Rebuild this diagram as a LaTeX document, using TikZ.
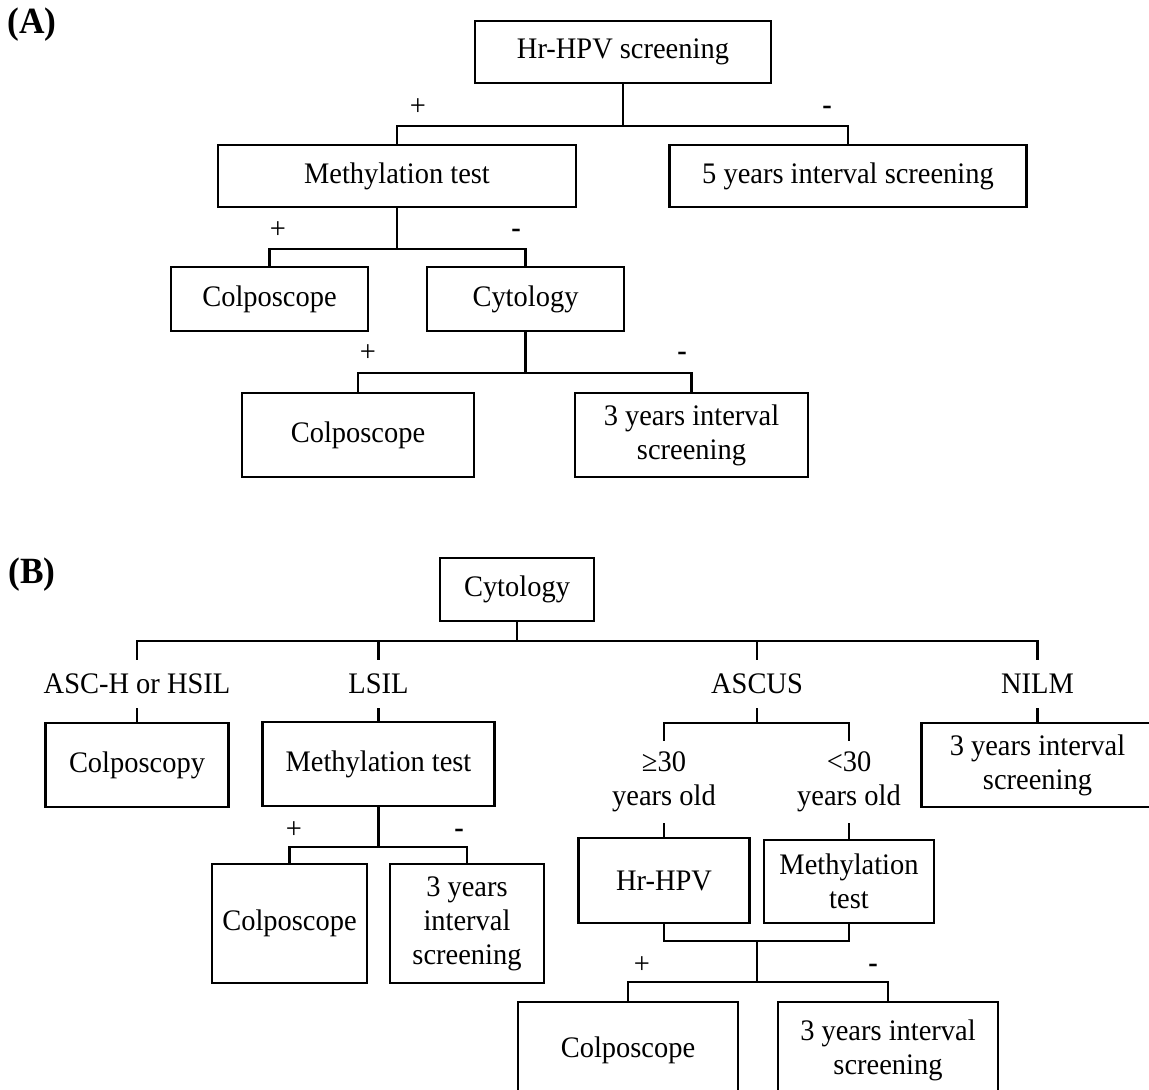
\documentclass[tikz,border=0pt]{standalone}
\usepackage{fontspec}
\setmainfont[FakeStretch=0.955]{Liberation Serif}
\newcommand\mainsz{\fontsize{29.8}{34}\selectfont}
\newcommand\panelsz{\fontsize{37}{40}\selectfont\bfseries}
\begin{document}
\begin{tikzpicture}[x=1pt,y=-1pt,line width=2.8pt,
  box/.style={draw, line width=2.8pt, inner sep=0pt, align=center, font=\mainsz},
  sz/.style 2 args={minimum width=#1pt, minimum height=#2pt},
  lbl/.style={inner sep=0pt, align=center, font=\mainsz},
  sign/.style={inner sep=0pt, font=\mainsz},
  panel/.style={inner sep=0pt, font=\panelsz}]
\useasboundingbox (0,0) rectangle (1149,1090);

% ---------------- Panel A ----------------
\node[panel] (tA) at (32,25) {(A)};
\node[box, sz={296}{62}] (a1) at (623,52) {Hr-HPV screening};
\node[box, sz={358}{62}] (a2) at (397,176) {Methylation test};
\node[box, sz={357}{62}] (a3) at (848,176) {5 years interval screening};
\node[box, sz={197}{64}] (a4) at (269.5,299) {Colposcope};
\node[box, sz={197}{64}] (a5) at (525.5,299) {Cytology};
\node[box, sz={232}{84}] (a6) at (358,435) {Colposcope};
\node[box, sz={233}{84}] (a7) at (691.5,435) {3 years interval\\screening};

\node[sign] (pa1) at (418,107) {+};
\node[sign] (ma1) at (827,110) {\textbf{-}};
\node[sign] (pa2) at (278,230) {+};
\node[sign] (ma2) at (516,233) {\textbf{-}};
\node[sign] (pa3) at (368,353) {+};
\node[sign] (ma3) at (682,356) {\textbf{-}};

\coordinate (ja1) at (623,126);
\coordinate (ja2) at (397,249);
\coordinate (ja3) at (525.5,373);
\draw (a1.south) -- (ja1);
\draw (a2.north) |- (ja1) -| (a3.north);
\draw (a2.south) -- (ja2);
\draw (a4.north) |- (ja2) -| (a5.north);
\draw (a5.south) -- (ja3);
\draw (a6.north) |- (ja3) -| (a7.north);

% ---------------- Panel B ----------------
\node[panel] (tB) at (32,575) {(B)};
\node[box, sz={154}{63}] (b1) at (517,589.5) {Cytology};

\node[lbl, sz={10}{46}] (l1) at (137,684) {ASC-H or HSIL};
\node[lbl, sz={10}{46}] (l2) at (378.5,684) {LSIL};
\node[lbl, sz={10}{46}] (l3) at (757,684) {ASCUS};
\node[lbl, sz={10}{46}] (l4) at (1037.5,684) {NILM};

\node[box, sz={183}{84}] (b2) at (137,765) {Colposcopy};
\node[box, sz={232}{84}] (b3) at (378.5,764) {Methylation test};
\node[box, sz={232}{84}] (b10) at (1037.5,765) {3 years interval\\screening};

\node[box, sz={155}{119}] (b4) at (289.5,923.5) {Colposcope};
\node[box, sz={154}{119}] (b5) at (467,923.5) {3 years\\interval\\screening};
\node[sign] (pb1) at (294,830) {+};
\node[sign] (mb1) at (459,833) {\textbf{-}};

\node[lbl, sz={10}{80}] (l5) at (664,782) {≥30\\years old};
\node[lbl, sz={10}{80}] (l6) at (849,782) {<30\\years old};
\node[box, sz={171}{85}] (b6) at (664,880.5) {Hr-HPV};
\node[box, sz={170}{83}] (b7) at (849,881.5) {Methylation\\test};

\node[box, sz={220}{96}] (b8) at (628,1050) {Colposcope};
\node[box, sz={220}{96}] (b9) at (888,1050) {3 years interval\\screening};
\node[sign] (pb2) at (642,965) {+};
\node[sign] (mb2) at (873,968) {\textbf{-}};

\coordinate (jb1) at (517,641);
\coordinate (jb2) at (378.5,847);
\coordinate (jb3) at (757,723);
\coordinate (jb4) at (757,941);
\coordinate (jb5) at (757,982);

\draw (b1.south) -- (jb1);
\draw (l1.north) |- (jb1) -| (l4.north);
\draw (l2.north) -- (l2.north |- jb1);
\draw (l3.north) -- (l3.north |- jb1);
\draw (l1.south) -- (b2.north);
\draw (l2.south) -- (b3.north);
\draw (l4.south) -- (b10.north);
\draw (b3.south) -- (jb2);
\draw (b4.north) |- (jb2) -| (b5.north);
\draw (l3.south) -- (jb3);
\draw (l5.north) |- (jb3) -| (l6.north);
\draw (l5.south) -- (b6.north);
\draw (l6.south) -- (b7.north);
\draw (b6.south) |- (jb4) -| (b7.south);
\draw (jb4) -- (jb5);
\draw (b8.north) |- (jb5) -| (b9.north);
\end{tikzpicture}
\end{document}
